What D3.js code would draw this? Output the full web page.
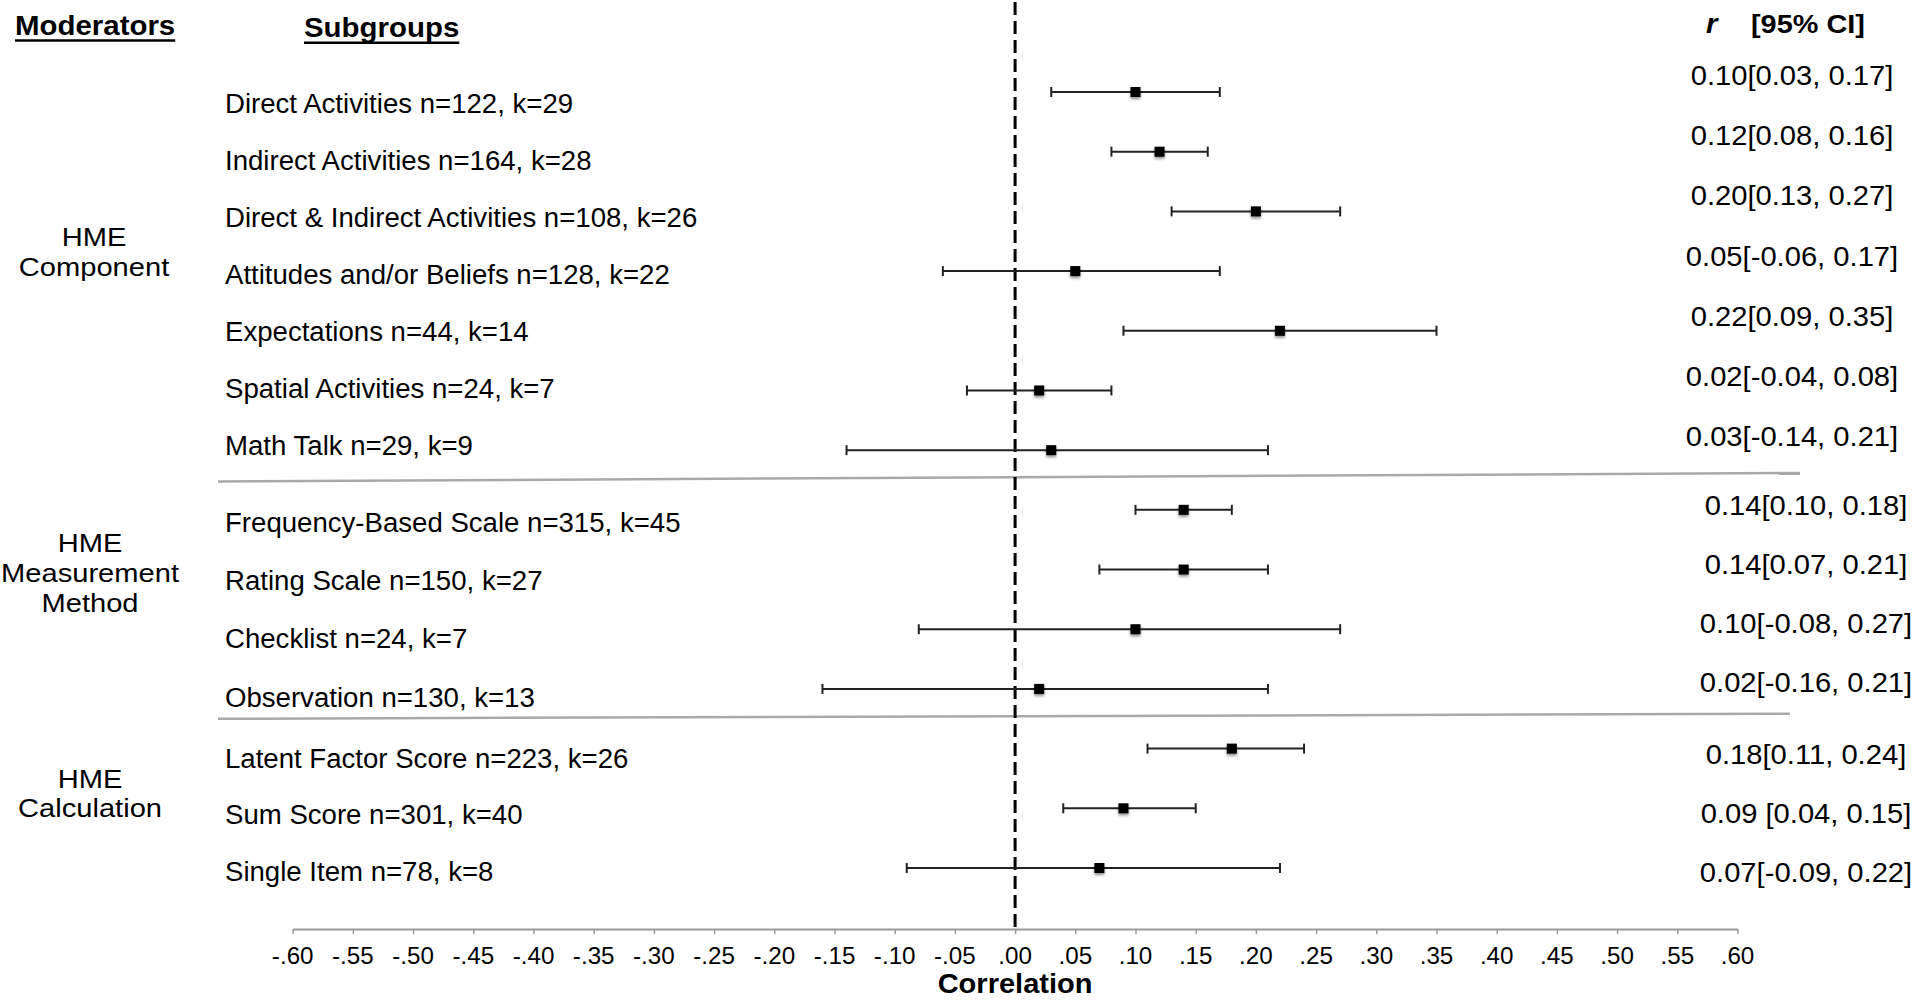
<!DOCTYPE html>
<html>
<head>
  <meta charset="utf-8">
  <title>HME moderators forest plot</title>
  <style type="text/css">
    body{ margin:0; background:#fff; }
    svg text{ font-family:"Liberation Sans", Arial, Helvetica, sans-serif; fill:#000; }
  </style>
</head>
<body>
<div id="chart"></div>
<script src="https://cdn.jsdelivr.net/npm/d3@7/dist/d3.min.js"></script>
<script type="text/javascript">
  // data
  var moderators = [["HME","Component"], ["HME","Measurement","Method"], ["HME","Calculation"]];
  var subgroups = [
    "Direct Activities n=122, k=29",
    "Indirect Activities n=164, k=28",
    "Direct & Indirect Activities n=108, k=26",
    "Attitudes and/or Beliefs n=128, k=22",
    "Expectations n=44, k=14",
    "Spatial Activities n=24, k=7",
    "Math Talk n=29, k=9",
    "Frequency-Based Scale n=315, k=45",
    "Rating Scale n=150, k=27",
    "Checklist n=24, k=7",
    "Observation n=130, k=13",
    "Latent Factor Score n=223, k=26",
    "Sum Score n=301, k=40",
    "Single Item n=78, k=8"
  ];
  var groupOf  = [0,0,0,0,0,0,0, 1,1,1,1, 2,2,2];
  var estimate = [0.10, 0.12, 0.20, 0.05, 0.22, 0.02, 0.03, 0.14, 0.14, 0.10, 0.02, 0.18, 0.09, 0.07];
  var lower    = [0.03, 0.08, 0.13, -0.06, 0.09, -0.04, -0.14, 0.10, 0.07, -0.08, -0.16, 0.11, 0.04, -0.09];
  var upper    = [0.17, 0.16, 0.27, 0.17, 0.35, 0.08, 0.21, 0.18, 0.21, 0.27, 0.21, 0.24, 0.15, 0.22];
  var ciLabels = [
    "0.10[0.03, 0.17]", "0.12[0.08, 0.16]", "0.20[0.13, 0.27]", "0.05[-0.06, 0.17]",
    "0.22[0.09, 0.35]", "0.02[-0.04, 0.08]", "0.03[-0.14, 0.21]",
    "0.14[0.10, 0.18]", "0.14[0.07, 0.21]", "0.10[-0.08, 0.27]", "0.02[-0.16, 0.21]",
    "0.18[0.11, 0.24]", "0.09 [0.04, 0.15]", "0.07[-0.09, 0.22]"
  ];
  var tickLabels = ["-.60","-.55","-.50","-.45","-.40","-.35","-.30","-.25","-.20","-.15","-.10","-.05",
                    ".00",".05",".10",".15",".20",".25",".30",".35",".40",".45",".50",".55",".60"];

  // layout of the text columns (per moderator group)
  var labelTop  = [103, 522, 758],  labelStep = [57, 58.3, 56.5];
  var ciTop     = [75, 505, 754],   ciStep    = [60.3, 59, 59];
  var ciX       = [1792, 1806, 1806];
  var modLineY  = [[237, 267], [543, 573, 603], [779, 808]];
  var modX      = [94, 90, 90];

  var W = 1920, H = 1000, axisY = 929;
  var svg = d3.select("#chart").append("svg").attr("width", W).attr("height", H);

  var x = d3.scaleLinear().domain([-0.6, 0.6]).range([292.7, 1737.5]);
  var y = d3.scalePoint().domain(d3.range(subgroups.length)).range([92, 868]);

  var defs = svg.append("defs");
  defs.append("filter").attr("id", "shadow").attr("x", "-50%").attr("y", "-50%").attr("width", "200%").attr("height", "200%")
    .append("feDropShadow").attr("dx", 0).attr("dy", 2).attr("stdDeviation", 1.6)
    .attr("flood-color", "#000").attr("flood-opacity", 0.45);

  // text with a little horizontal stretch, like the original figure
  function stext(str, px, py, size, sx, anchor, weight, style) {
    return svg.append("text")
      .attr("transform", "translate(" + px + "," + py + ") scale(" + sx + ",1)")
      .attr("text-anchor", anchor || "start")
      .style("font-size", size + "px")
      .style("font-weight", weight || "normal")
      .style("font-style", style || "normal")
      .text(str);
  }

  // headers
  var h1 = stext("Moderators", 15, 34.5, 27, 1.09, "start", "bold");
  var h2 = stext("Subgroups", 304, 37, 27, 1.09, "start", "bold");
  [[h1, 15, 40.5], [h2, 304, 42.8]].forEach(function (h) {
    var w = h[0].node().getComputedTextLength() * 1.09;
    svg.append("line").attr("x1", h[1]).attr("x2", h[1] + w).attr("y1", h[2]).attr("y2", h[2])
      .attr("stroke", "#000").attr("stroke-width", 2.4);
  });
  stext("r", 1706, 33, 27, 1.09, "start", "bold", "italic");
  stext("[95% CI]", 1751, 33, 26.5, 1.09, "start", "bold");

  // moderator names
  moderators.forEach(function (lines, g) {
    lines.forEach(function (t, j) {
      stext(t, modX[g], modLineY[g][j] + 9.3, 26, 1.12, "middle");
    });
  });

  // separators between moderator groups
  var sepEnds = [[1.5, -7, 1800], [0, -5, 1790]];
  [6, 10].forEach(function (last, s) {
    var mid = (y(last) + y(last + 1)) / 2;
    svg.append("line")
      .attr("x1", 218).attr("y1", mid + sepEnds[s][0])
      .attr("x2", sepEnds[s][2]).attr("y2", mid + sepEnds[s][1])
      .attr("stroke", "#a9a9a9").attr("stroke-width", 2.5);
  });

  // subgroup labels and CI texts
  var idxInGroup = [], counter = [0, 0, 0];
  groupOf.forEach(function (g) { idxInGroup.push(counter[g]++); });

  subgroups.forEach(function (t, i) {
    var g = groupOf[i], k = idxInGroup[i];
    stext(t, 225, labelTop[g] + k * labelStep[g] + 9.6, 26.8, 1.03, "start");
    stext(ciLabels[i], ciX[g], ciTop[g] + k * ciStep[g] + 9.6, 27, 1.08, "middle");
  });

  // axis
  var tickValues = tickLabels.map(function (d) { return parseFloat(d); });
  var axis = svg.append("g").attr("transform", "translate(0," + axisY + ")")
    .call(d3.axisBottom(x).tickValues(tickValues).tickSize(5).tickSizeOuter(0).tickFormat(""));
  axis.select(".domain").attr("stroke", "#999").attr("stroke-width", 2);
  axis.selectAll(".tick line").attr("stroke", "#999").attr("stroke-width", 1.5);
  tickValues.forEach(function (v, i) {
    stext(tickLabels[i], x(v), 963.5, 23.5, 1.03, "middle");
  });
  stext("Correlation", x(0), 993, 28.5, 1.02, "middle", "bold");

  // zero reference line
  svg.append("line").attr("x1", x(0)).attr("x2", x(0)).attr("y1", 2).attr("y2", axisY)
    .attr("stroke", "#000").attr("stroke-width", 3).attr("stroke-dasharray", "13,6");

  // error bars and point estimates
  var rows = svg.append("g").selectAll("g").data(subgroups).enter().append("g");
  rows.append("line")
    .attr("x1", function (d, i) { return x(lower[i]); })
    .attr("x2", function (d, i) { return x(upper[i]); })
    .attr("y1", function (d, i) { return y(i); })
    .attr("y2", function (d, i) { return y(i); })
    .attr("stroke", "#222").attr("stroke-width", 2);
  [lower, upper].forEach(function (arr) {
    rows.append("line")
      .attr("x1", function (d, i) { return x(arr[i]); })
      .attr("x2", function (d, i) { return x(arr[i]); })
      .attr("y1", function (d, i) { return y(i) - 5; })
      .attr("y2", function (d, i) { return y(i) + 5; })
      .attr("stroke", "#222").attr("stroke-width", 2);
  });
  rows.append("rect")
    .attr("x", function (d, i) { return x(estimate[i]) - 5; })
    .attr("y", function (d, i) { return y(i) - 5; })
    .attr("width", 10).attr("height", 10)
    .attr("fill", "#000")
    .attr("filter", "url(#shadow)");
</script>
</body>
</html>
